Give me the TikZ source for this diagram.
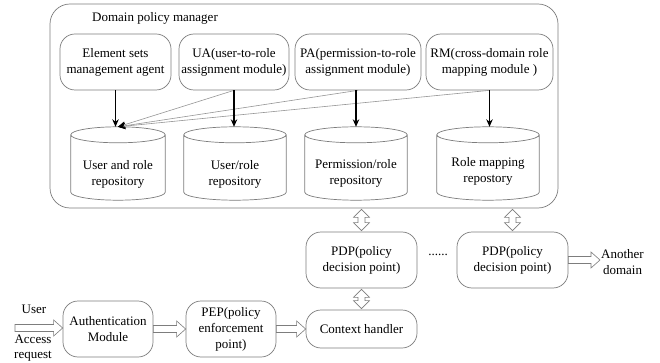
\documentclass[tikz,border=0pt]{standalone}
\usepackage{fontspec}
\setmainfont{Liberation Serif}
\usetikzlibrary{arrows.meta,calc}
\definecolor{boxgray}{RGB}{125,125,125}
\definecolor{linegray}{RGB}{150,150,150}
\tikzset{
  txt/.style={font=\fontsize{13}{16}\selectfont, align=center, inner sep=0pt},
  rbox/.style={draw=boxgray, line width=0.7pt, rounded corners=15pt, txt, minimum height=56pt},
  cylbox/.style={minimum height=73pt, inner sep=0pt},
  cyldraw/.style={draw=boxgray, line width=0.7pt},
  blackarrow/.style={line width=1.1pt, -{Stealth[length=7.5pt,width=6.5pt]}},
  thinline/.style={draw=linegray, line width=0.6pt, -{Stealth[length=7.5pt,width=6.5pt,color=black]}},
  hollow/.style={draw=boxgray, line width=0.6pt, fill=white},
  hollowR/.style={to path={let \p1=(\tikztostart),\p2=(\tikztotarget) in
     (\x1,\y1+3.5pt) -- (\x2-9pt,\y1+3.5pt) -- (\x2-9pt,\y1+8pt) -- (\x2,\y1)
     -- (\x2-9pt,\y1-8pt) -- (\x2-9pt,\y1-3.5pt) -- (\x1,\y1-3.5pt) -- cycle}},
  hollowV/.style={to path={let \p1=(\tikztostart),\p2=(\tikztotarget) in
     (\x1,\y1) -- (\x1+8pt,\y1-8pt) -- (\x1+3.5pt,\y1-8pt) -- (\x1+3.5pt,\y2+8pt)
     -- (\x1+8pt,\y2+8pt) -- (\x1,\y2) -- (\x1-8pt,\y2+8pt) -- (\x1-3.5pt,\y2+8pt)
     -- (\x1-3.5pt,\y1-8pt) -- (\x1-8pt,\y1-8pt) -- cycle}},
}
\begin{document}
\begin{tikzpicture}[x=1pt,y=1pt]
\useasboundingbox[fill=white] (0,0) rectangle (660,-363);

% outer manager box
\node[draw=boxgray, line width=0.7pt, rounded corners=20pt, minimum width=508pt, minimum height=204pt, inner sep=0pt] (dpm) at (304,-106) {};
\node[txt] (title) at (155,-18) {Domain policy manager};

% top modules
\node[rbox, minimum width=111pt] (es) at (115.5,-62) {Element sets\\management agent};
\node[rbox, minimum width=110pt] (ua) at (234,-62) {UA(user-to-role\\assignment module)};
\node[rbox, minimum width=126pt] (pa) at (358,-62) {PA(permission-to-role\\assignment module)};
\node[rbox, minimum width=127pt] (rm) at (489.5,-62) {RM(cross-domain role\\mapping module )};

% repositories (cylinders)
\node[cylbox, minimum width=94pt] (c1) at (118,-163.5) {};
\node[cylbox, minimum width=102pt] (c2) at (235,-163.5) {};
\node[cylbox, minimum width=102pt] (c3) at (356,-163.5) {};
\node[cylbox, minimum width=102pt] (c4) at (488,-163.5) {};
\foreach \c in {c1,c2,c3,c4}{
  \draw[cyldraw] let \p1=(\c.north west), \p2=(\c.south east), \n1={(\x2-\x1)/2} in
    ($(\c.north)+(0,-8pt)$) ellipse [x radius=\n1, y radius=8pt]
    (\x1,\y1-8pt) -- (\x1,\y2+8pt) arc[start angle=180, end angle=360, x radius=\n1, y radius=8pt]
    -- (\x2,\y1-8pt);
}
\node[txt] (t1) at (118,-174) {User and role\\repository};
\node[txt] (t2) at (235,-174) {User/role\\repository};
\node[txt] (t3) at (356,-173) {Permission/role\\repository};
\node[txt] (t4) at (488,-171) {Role mapping\\repostory};

% arrows inside manager
\draw[thinline] (ua.south) -- (c1.north);
\draw[thinline] (pa.south) -- (c1.north);
\draw[thinline] (rm.south) -- (c1.north);
\draw[blackarrow] (es.south) -- (es.south |- c1.north);
\draw[blackarrow] (ua.south) -- (ua.south |- c2.north);
\draw[blackarrow] (pa.south -| c3.north) -- (c3.north);
\draw[blackarrow] (rm.south) -- (rm.south |- c4.north);

% lower part
\node[rbox, minimum width=111pt] (pdp1) at (361.5,-260) {PDP(policy\\decision point)};
\node[rbox, minimum width=111pt] (pdp2) at (512.5,-260) {PDP(policy\\decision point)};
\node[txt] (dots) at (438,-255) {......};
\node[txt] (another) at (622.5,-262) {Another\\domain};
\node[rbox, minimum width=111pt, minimum height=38pt] (ctx) at (361.5,-329) {Context handler};
\node[rbox, minimum width=90pt] (auth) at (108,-329) {Authentication\\Module};
\node[rbox, minimum width=90pt] (pep) at (231,-329) {PEP(policy\\enforcement\\point)};
\node[txt] (user) at (34,-309) {User};
\node[txt, font=\fontsize{13}{15}\selectfont] (access) at (33,-348) {Access\\request};
\coordinate (in) at (15,-328);
\coordinate (out) at (600,-260);

\draw[hollow, hollowR] (in) to (auth.west);
\draw[hollow, hollowR] (auth.east) to (pep.west);
\draw[hollow, hollowR] (pep.east) to (ctx.west);
\draw[hollow, hollowR] (pdp2.east) to (out);
\draw[hollow, hollowV] ($(pdp1.north |- dpm.south)+(0,-1pt)$) to ($(pdp1.north)+(0,1pt)$);
\draw[hollow, hollowV] ($(pdp2.north |- dpm.south)+(0,-1pt)$) to ($(pdp2.north)+(0,1pt)$);
\draw[hollow, hollowV] ($(pdp1.south)+(0,-1pt)$) to ($(ctx.north)+(0,1pt)$);
\end{tikzpicture}
\end{document}
